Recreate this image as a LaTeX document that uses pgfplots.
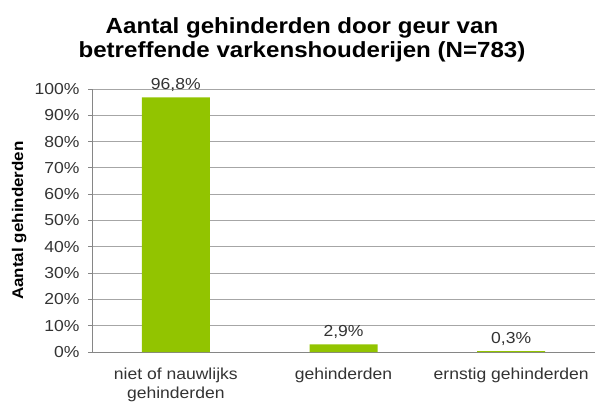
\documentclass[border=0pt]{standalone}
\usepackage{pgfplots}
\pgfplotsset{compat=1.18}
\usepackage{fontspec}
\setmainfont[FakeStretch=1.1]{Liberation Sans}
\definecolor{bargreen}{HTML}{92C400}
\definecolor{txt}{HTML}{333333}
\definecolor{gridc}{HTML}{A6A6A6}
\definecolor{axc}{HTML}{868686}
\begin{document}
\begin{tikzpicture}[x=1bp,y=1bp]
\useasboundingbox (0,0) rectangle (595,401);
\node[font=\bfseries\fontsize{22}{24}\selectfont, anchor=base, text=black, inner sep=0pt] at (302,368) {Aantal gehinderden door geur van};
\node[font=\bfseries\fontsize{22}{24}\selectfont, anchor=base, text=black, inner sep=0pt] at (302,344) {betreffende varkenshouderijen (N=783)};
\begin{axis}[
  at={(92bp,49bp)}, anchor=south west,
  scale only axis, width=503bp, height=263bp,
  ybar, bar width=68bp,
  xmin=-0.5, xmax=2.5, ymin=0, ymax=100,
  xtick={0,1,2},
  xticklabels={{niet of nauwlijks\\gehinderden},{gehinderden},{ernstig gehinderden}},
  xticklabel style={align=center, font=\fontsize{16}{19}\selectfont, text=txt, yshift=-8bp},
  x tick style={draw=none},
  ytick={0,10,...,100},
  yticklabel={\pgfmathprintnumber{\tick}\%},
  yticklabel style={font=\fontsize{16}{19}\selectfont, text=txt, xshift=-5bp},
  /pgf/number format/assume math mode=true,
  ymajorgrids, grid style={gridc, line width=0.9pt},
  y tick style={axc, line width=0.9pt}, major tick length=4bp, tick align=outside,
  axis x line*=bottom, axis y line*=left,
  axis line style={axc, line width=0.9pt, -},
  ylabel={\bfseries Aantal gehinderden},
  ylabel style={font=\fontsize{15.5}{18}\selectfont, text=black, at={(axis description cs:-0.145,0.5)}, anchor=center},
  nodes near coords={\pgfmathprintnumber[fixed,fixed zerofill,precision=1,use comma,assume math mode=true]{\pgfplotspointmeta}\%},
  nodes near coords style={font=\fontsize{16}{19}\selectfont, text=txt, yshift=2bp},
  clip=false,
]
\addplot[fill=bargreen, draw=none] coordinates {(0,96.8) (1,2.9) (2,0.3)};
\end{axis}
\end{tikzpicture}
\end{document}
